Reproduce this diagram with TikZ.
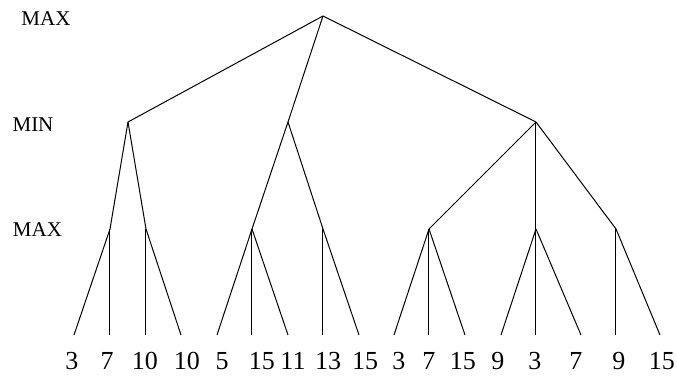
\documentclass[tikz,border=0pt]{standalone}
\usepackage{fontspec}
\setmainfont{Liberation Serif}
\begin{document}
\begin{tikzpicture}[x=0.5pt,y=-0.5pt,
  edge/.style={line width=0.5pt},
  leaflabel/.style={anchor=base,inner sep=0pt,font=\fontsize{13}{15}\selectfont},
  levellabel/.style={anchor=base,inner sep=0pt,font=\fontsize{10.5}{12}\selectfont}]
\useasboundingbox (0,0) rectangle (677,379);
% level labels
\node[levellabel] (lmax1) at (46,26) {MAX};
\node[levellabel] (lmin) at (33,132) {MIN};
\node[levellabel] (lmax2) at (37.5,237) {MAX};
% internal nodes
\coordinate (r) at (323,16);
\coordinate (a) at (128,122);
\coordinate (b) at (288,122);
\coordinate (c) at (536,122);
\coordinate (a1) at (110,229);
\coordinate (a2) at (146,229);
\coordinate (b1) at (252,229);
\coordinate (b2) at (323,229);
\coordinate (c1) at (429,229);
\coordinate (c2) at (536,229);
\coordinate (c3) at (616,229);
% leaves
\foreach \n/\x in {1/74,2/110,3/146,4/181,5/217,6/252,7/288,8/323,9/359,10/394,11/429,12/465,13/501,14/536,15/581,16/616,17/660}
  \coordinate (l\n) at (\x,335);
% edges
\draw[edge] (r) -- (a); \draw[edge] (r) -- (b); \draw[edge] (r) -- (c);
\draw[edge] (a) -- (a1); \draw[edge] (a) -- (a2);
\draw[edge] (b) -- (b1); \draw[edge] (b) -- (b2);
\draw[edge] (c) -- (c1); \draw[edge] (c) -- (c2); \draw[edge] (c) -- (c3);
\draw[edge] (a1) -- (l1); \draw[edge] (a1) -- (l2);
\draw[edge] (a2) -- (l3); \draw[edge] (a2) -- (l4);
\draw[edge] (b1) -- (l5); \draw[edge] (b1) -- (l6); \draw[edge] (b1) -- (l7);
\draw[edge] (b2) -- (l8); \draw[edge] (b2) -- (l9);
\draw[edge] (c1) -- (l10); \draw[edge] (c1) -- (l11); \draw[edge] (c1) -- (l12);
\draw[edge] (c2) -- (l13); \draw[edge] (c2) -- (l14); \draw[edge] (c2) -- (l15);
\draw[edge] (c3) -- (l16); \draw[edge] (c3) -- (l17);
% leaf values
\foreach \n/\x/\v in {1/72/3,2/107/7,3/145/10,4/187/10,5/222/5,6/262/15,7/293/11,8/328/13,9/365/15,10/399/3,11/429/7,12/463/15,13/498/9,14/535/3,15/576/7,16/619/9,17/662/15}
  \node[leaflabel] (v\n) at (\x,370) {\v};
\end{tikzpicture}
\end{document}
